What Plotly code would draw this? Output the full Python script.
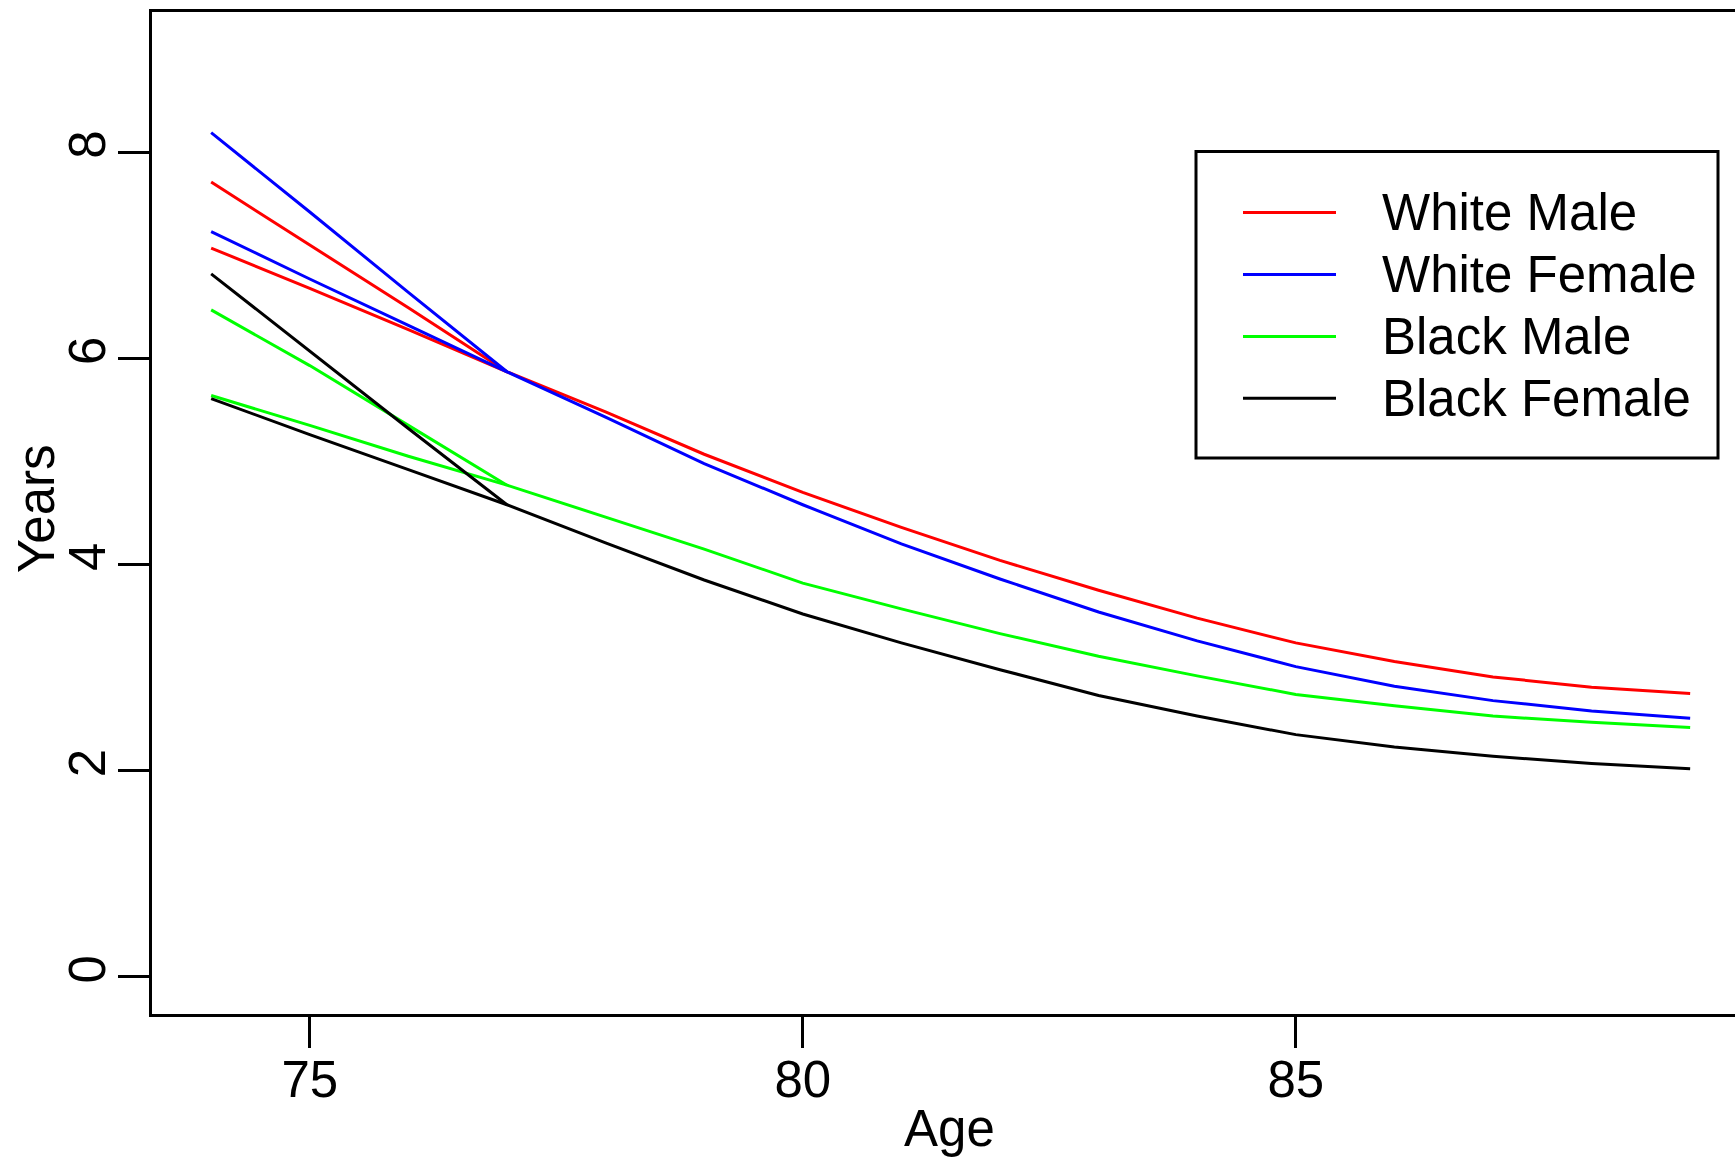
import plotly.graph_objects as go

# ---------------- data ----------------
series_names = ["White Male", "White Female", "Black Male", "Black Female"]
series_colors = ["#FF0000", "#0000FF", "#00FF00", "#000000"]

early_ages = [74, 75, 76]
main_ages = [77, 78, 79, 80, 81, 82, 83, 84, 85, 86, 87, 88, 89]

# two early branches (ages 74-76) that join the main curve at 77
wm_branch_a = [7.71, 7.10, 6.49]
wm_branch_b = [7.07, 6.68, 6.28]
wm_main = [5.87, 5.48, 5.07, 4.70, 4.36, 4.04, 3.75, 3.48, 3.24, 3.06, 2.91, 2.81, 2.75]

wf_branch_a = [8.19, 7.42, 6.64]
wf_branch_b = [7.23, 6.77, 6.32]
wf_main = [5.87, 5.43, 4.98, 4.58, 4.20, 3.86, 3.54, 3.26, 3.01, 2.82, 2.68, 2.58, 2.51]

bm_branch_a = [6.47, 5.93, 5.35]
bm_branch_b = [5.64, 5.35, 5.05]
bm_main = [4.77, 4.46, 4.15, 3.82, 3.57, 3.33, 3.11, 2.92, 2.74, 2.63, 2.53, 2.47, 2.42]

bf_branch_a = [6.82, 6.07, 5.32]
bf_branch_b = [5.61, 5.26, 4.92]
bf_main = [4.58, 4.21, 3.85, 3.52, 3.24, 2.98, 2.73, 2.53, 2.35, 2.23, 2.14, 2.07, 2.02]

branches_a = [wm_branch_a, wf_branch_a, bm_branch_a, bf_branch_a]
branches_b = [wm_branch_b, wf_branch_b, bm_branch_b, bf_branch_b]
mains = [wm_main, wf_main, bm_main, bf_main]

x_ticks = [75, 80, 85]
y_ticks = [0, 2, 4, 6, 8]

# ---------------- layout geometry ----------------
W, H = 1735, 1160
L, R, T, B = 152, 0, 12, 146
PW = W - L - R
PH = H - T - B
FONT = "Liberation Sans, Arial, Helvetica, sans-serif"
FS = 51
LW = 3


def px(xp):
    return (xp - L) / PW


def py(yp):
    return (H - B - yp) / PH


fig = go.Figure()
for name, color, a, b, m in zip(series_names, series_colors, branches_a, branches_b, mains):
    xs = early_ages + [main_ages[0]] + [None] + early_ages + main_ages
    ys = a + [m[0]] + [None] + b + m
    fig.add_trace(go.Scatter(x=xs, y=ys, mode="lines", name=name,
                             line=dict(color=color, width=LW),
                             connectgaps=False, showlegend=False))

x_per_px = 98.6
fig.update_xaxes(range=[73.4, 73.4 + PW / x_per_px], tickvals=x_ticks,
                 ticktext=[str(v) for v in x_ticks],
                 showline=True, linecolor="black", linewidth=LW, mirror=True,
                 ticks="outside", ticklen=31, tickwidth=LW, tickcolor="black",
                 ticklabelstandoff=-12,
                 showgrid=False, zeroline=False,
                 tickfont=dict(family=FONT, size=FS, color="black"))
fig.update_yaxes(range=[-0.36, 9.36], tickvals=y_ticks,
                 ticktext=[str(v) for v in y_ticks], tickangle=-90,
                 showline=True, linecolor="black", linewidth=LW, mirror=False,
                 ticks="outside", ticklen=31, tickwidth=LW, tickcolor="black",
                 ticklabelstandoff=-7,
                 showgrid=False, zeroline=False,
                 tickfont=dict(family=FONT, size=FS, color="black"))

annotations = [
    dict(text="Age", x=px(949.5), y=py(1128), xref="paper", yref="paper",
         xanchor="center", yanchor="middle", showarrow=False,
         font=dict(family=FONT, size=FS, color="black")),
    dict(text="Years", x=px(36), y=py(509), xref="paper", yref="paper",
         xanchor="center", yanchor="middle", showarrow=False, textangle=-90,
         font=dict(family=FONT, size=FS, color="black")),
]

shapes = [dict(type="rect", xref="paper", yref="paper",
               x0=px(1196), x1=px(1718), y0=py(458), y1=py(151.6),
               line=dict(color="black", width=LW), fillcolor="white", layer="above")]

legend_rows = [212.4, 274.4, 336.4, 398.3]
for name, color, yrow in zip(series_names, series_colors, legend_rows):
    shapes.append(dict(type="line", xref="paper", yref="paper",
                       x0=px(1243), x1=px(1336), y0=py(yrow), y1=py(yrow),
                       line=dict(color=color, width=LW), layer="above"))
    annotations.append(dict(text=name, x=px(1380), y=py(yrow), xref="paper", yref="paper",
                            xanchor="left", yanchor="middle", showarrow=False,
                            font=dict(family=FONT, size=FS, color="black")))

fig.update_layout(width=W, height=H, margin=dict(l=L, r=R, t=T, b=B, pad=0),
                  paper_bgcolor="white", plot_bgcolor="white",
                  showlegend=False, annotations=annotations, shapes=shapes)

fig.write_html("out.html")
